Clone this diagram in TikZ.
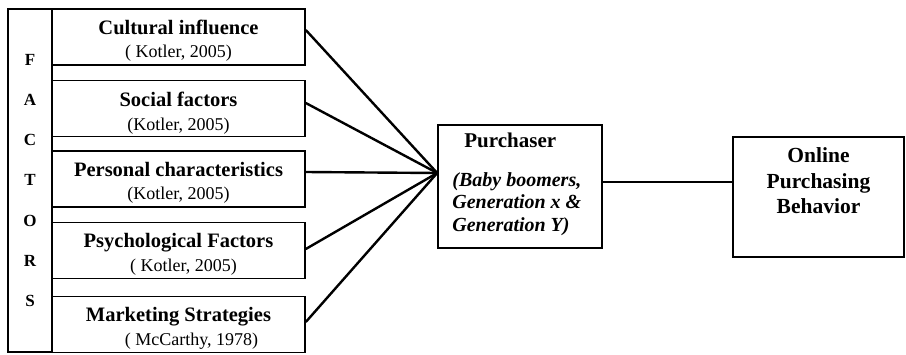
\documentclass[tikz,border=0pt]{standalone}
\usepackage{fontspec}
\setmainfont{Liberation Serif}
\begin{document}
\begin{tikzpicture}[x=1pt, y=-1pt,
    box/.style={draw, line width=1.6pt, inner sep=0pt},
    factor/.style={box, minimum width=253pt, minimum height=56pt, align=center,
      font=\fontsize{18}{23.5}\selectfont},
    link/.style={line width=2.4pt}]
  \useasboundingbox (0,0) rectangle (906,354);
  \node[box, minimum width=44pt, minimum height=343pt, align=center,
    font=\fontsize{17}{40.3}\selectfont\bfseries] (letters) at (30,180.5)
    {F\\A\\C\\T\\O\\R\\S};
  \node[factor] (f1) at (178.5,37) {\rule{0pt}{22pt}\textbf{\fontsize{20.5}{23}\selectfont Cultural influence}\\( Kotler, 2005)};
  \node[factor] (f2) at (178.5,108.5) {\rule{0pt}{24pt}\textbf{\fontsize{20.5}{23}\selectfont Social factors}\\(Kotler, 2005)};
  \node[factor] (f3) at (178.5,179) {\rule{0pt}{22pt}\textbf{\fontsize{20.5}{23}\selectfont Personal characteristics}\\(Kotler, 2005)};
  \node[factor] (f4) at (178.5,250.5) {\rule{0pt}{22pt}\textbf{\fontsize{20.5}{23}\selectfont Psychological Factors}\\\hspace*{10pt}( Kotler, 2005)};
  \node[factor] (f5) at (178.5,324.5) {\rule{0pt}{22pt}\textbf{\fontsize{20.5}{23}\selectfont Marketing Strategies}\\\hspace*{26pt}( McCarthy, 1978)};
  \node[box, minimum width=164pt, minimum height=123pt] (purch) at (520,186.5) {};
  \node[anchor=north west, inner sep=0pt, align=left,
    font=\fontsize{20}{22.5}\selectfont\bfseries] (purchtxt) at ([xshift=15pt,yshift=-9pt]purch.north west)
    {\hspace*{12pt}{\fontsize{21}{22.5}\selectfont Purchaser}\\[16pt]\itshape(Baby boomers,\\\itshape Generation x \&\\\itshape Generation Y)};
  \node[box, minimum width=171pt, minimum height=120pt] (online) at (818.5,197) {};
  \node[anchor=north, align=center, font=\fontsize{21.5}{25.5}\selectfont\bfseries] (onlinetxt)
    at ([yshift=-8pt]online.north) {Online\\Purchasing\\Behavior};
  \coordinate (hub) at ([yshift=13.5pt]purch.west);
  \draw[link] ([yshift=7pt]f1.east) -- (hub);
  \draw[link] ([yshift=5.5pt]f2.east) -- (hub);
  \draw[link] ([yshift=7pt]f3.east) -- (hub);
  \draw[link] ([yshift=1.5pt]f4.east) -- (hub);
  \draw[link] ([yshift=2.5pt]f5.east) -- (hub);
  \draw[link] ([yshift=4.5pt]purch.east) -- ([yshift=4.5pt]purch.east -| online.west);
\end{tikzpicture}
\end{document}
